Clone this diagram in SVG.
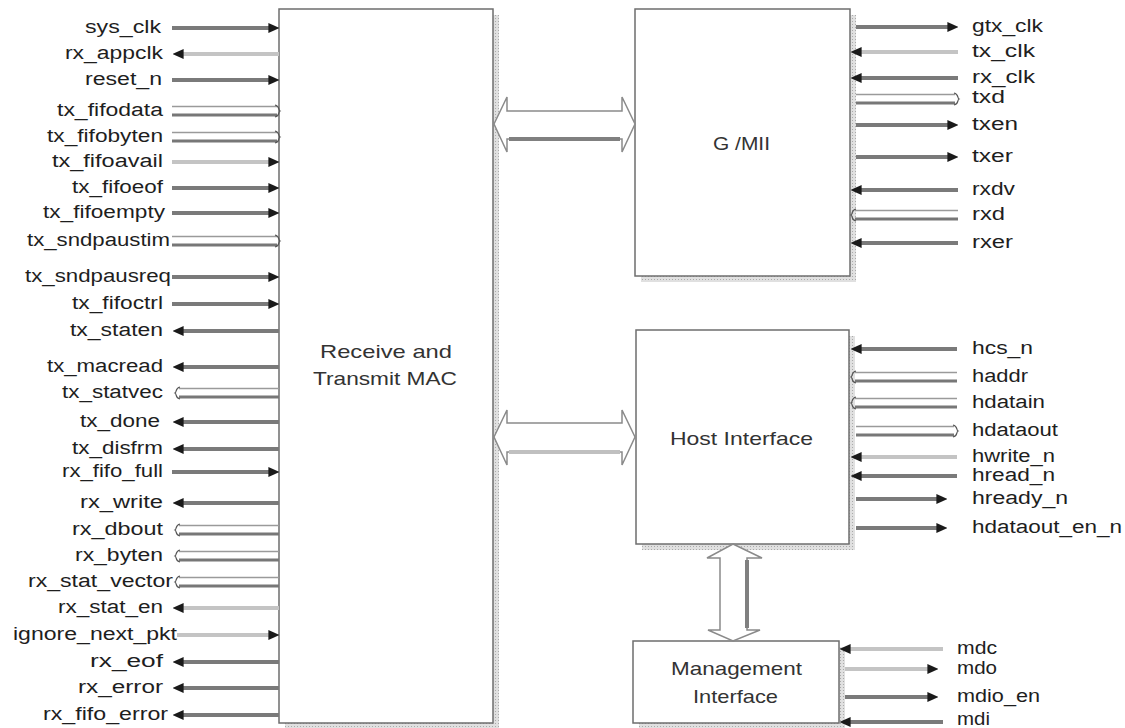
<svg xmlns="http://www.w3.org/2000/svg" width="1125" height="728" viewBox="0 0 1125 728">
<style>
.blk{fill:#fff;stroke:#6e6e6e;stroke-width:1.5}
.shd{fill:url(#dots)}
.dk{stroke:#7a7a7a;stroke-width:4;fill:none}
.lt{stroke:#c4c4c4;stroke-width:4;fill:none}
.in{marker-end:url(#ah)}
.bt{stroke:#9a9a9a;stroke-width:1.3;fill:none}
.bb{stroke:#777;stroke-width:3;fill:none}
.bk{stroke:#555;stroke-width:1.2;fill:none}
.big{fill:#fff;stroke:#8a8a8a;stroke-width:1.5}
.bigd{stroke:#808080;stroke-width:4;fill:none}
.lbl{font-family:"Liberation Sans",Arial,sans-serif;font-size:18px;fill:#1e1e1e}
.ttl{font-family:"Liberation Sans",Arial,sans-serif;font-size:19px;fill:#333}
</style>
<defs>
<pattern id="dots" width="3" height="3" patternUnits="userSpaceOnUse">
<rect width="3" height="3" fill="#e0e0e0"/><rect width="1" height="1" fill="#aaa"/>
</pattern>
<marker id="ah" markerUnits="userSpaceOnUse" markerWidth="11" markerHeight="11" viewBox="0 0 10 10" refX="6" refY="5" orient="auto">
<path d="M0,0.5 L10,5 L0,9.5 Z" fill="#1a1a1a"/>
</marker>
<path id="brR" d="M-3,-6 C2,-5 0,-1 2,0 C0,1 2,5 -3,6"/>
<path id="brL" d="M3,-6 C-2,-5 0,-1 -2,0 C0,1 -2,5 3,6"/>
</defs>
<rect width="1125" height="728" fill="#fff"/>

<g id="mac">
<rect class="shd" x="285" y="15" width="214" height="714"/>
<rect class="blk" x="279" y="9" width="214" height="714"/>
<text class="ttl" x="320" y="358" textLength="132" lengthAdjust="spacingAndGlyphs">Receive and</text>
<text class="ttl" x="313" y="385" textLength="144" lengthAdjust="spacingAndGlyphs">Transmit MAC</text>
</g>
<g id="gmii">
<rect class="shd" x="641" y="15" width="215" height="267"/>
<rect class="blk" x="635" y="9" width="215" height="267"/>
<text class="ttl" x="713" y="150" textLength="57" lengthAdjust="spacingAndGlyphs">G /MII</text>
</g>
<g id="host">
<rect class="shd" x="642" y="336" width="213" height="214"/>
<rect class="blk" x="636" y="330" width="213" height="214"/>
<text class="ttl" x="670" y="445" textLength="143" lengthAdjust="spacingAndGlyphs">Host Interface</text>
</g>
<g id="mgmt">
<rect class="shd" x="639" y="647" width="206" height="82"/>
<rect class="blk" x="633" y="641" width="206" height="82"/>
<text class="ttl" x="671" y="675" textLength="131" lengthAdjust="spacingAndGlyphs">Management</text>
<text class="ttl" x="693" y="703" textLength="85" lengthAdjust="spacingAndGlyphs">Interface</text>
</g>

<g id="connectors">
<path class="big" d="M494,124 L507,97 L507,111 L622,111 L622,97 L635,124 L622,152 L622,139 L507,139 L507,152 Z"/>
<path class="bigd" d="M509,139 H620"/>
<path class="big" d="M494,437 L507,410 L507,423 L622,423 L622,410 L635,437 L622,465 L622,452 L507,452 L507,465 Z"/>
<path class="bigd" d="M509,452 H620" style="stroke:#c0c0c0"/>
<path class="big" d="M733,544 L762,558 L747,558 L747,630 L760,630 L733,641 L708,630 L720,630 L720,558 L707,558 Z"/>
<path class="bigd" d="M747,560 V628"/>

<path class="dk in" d="M172,28 H275"/>
<path class="lt in" d="M279,54 H177"/>
<path class="dk in" d="M172,80 H275"/>
<path class="bt" d="M172,106.5 H277"/><path class="bb" d="M172,115 H277"/><use href="#brR" class="bk" x="278" y="111"/>
<path class="bt" d="M172,132.5 H277"/><path class="bb" d="M172,141 H277"/><use href="#brR" class="bk" x="278" y="137"/>
<path class="lt in" d="M172,162 H275"/>
<path class="dk in" d="M172,188 H275"/>
<path class="dk in" d="M172,213 H275"/>
<path class="bt" d="M172,236.5 H277"/><path class="bb" d="M172,245 H277"/><use href="#brR" class="bk" x="278" y="241"/>
<path class="dk in" d="M172,277 H275"/>
<path class="dk in" d="M172,304 H275"/>
<path class="dk in" d="M279,331 H177"/>
<path class="dk in" d="M279,367 H177"/>
<path class="bt" d="M179,388.5 H279"/><path class="bb" d="M179,397 H279"/><use href="#brL" class="bk" x="177" y="393"/>
<path class="dk in" d="M279,422 H177"/>
<path class="dk in" d="M279,449 H177"/>
<path class="dk in" d="M172,472 H275"/>
<path class="dk in" d="M279,503 H177"/>
<path class="bt" d="M179,525.5 H279"/><path class="bb" d="M179,534 H279"/><use href="#brL" class="bk" x="177" y="530"/>
<path class="bt" d="M179,551.5 H279"/><path class="bb" d="M179,560 H279"/><use href="#brL" class="bk" x="177" y="556"/>
<path class="bt" d="M179,577.5 H279"/><path class="bb" d="M179,586 H279"/><use href="#brL" class="bk" x="177" y="582"/>
<path class="lt in" d="M279,608 H177"/>
<path class="lt in" d="M177,635 H275"/>
<path class="dk in" d="M279,662 H177"/>
<path class="dk in" d="M279,688 H177"/>
<path class="dk in" d="M279,715 H177"/>

<path class="dk in" d="M856,27 H954"/>
<path class="lt in" d="M958,52 H855"/>
<path class="dk in" d="M958,78 H855"/>
<path class="bt" d="M856,94.5 H955"/><path class="bb" d="M856,103 H955"/><use href="#brR" class="bk" x="957" y="99"/>
<path class="dk in" d="M856,125 H954"/>
<path class="dk in" d="M856,157 H954"/>
<path class="dk in" d="M958,190 H855"/>
<path class="bt" d="M855,210.5 H958"/><path class="bb" d="M855,219 H958"/><use href="#brL" class="bk" x="853" y="215"/>
<path class="dk in" d="M958,243 H855"/>

<path class="dk in" d="M957,349 H855"/>
<path class="bt" d="M855,372.5 H957"/><path class="bb" d="M855,381 H957"/><use href="#brL" class="bk" x="853" y="377"/>
<path class="bt" d="M855,398.5 H957"/><path class="bb" d="M855,407 H957"/><use href="#brL" class="bk" x="853" y="403"/>
<path class="bt" d="M856,426.5 H954"/><path class="bb" d="M856,435 H954"/><use href="#brR" class="bk" x="956" y="431"/>
<path class="lt in" d="M957,457 H855"/>
<path class="dk in" d="M957,476 H855"/>
<path class="dk in" d="M856,499 H943"/>
<path class="dk in" d="M856,528 H943"/>

<path class="lt in" d="M943,649 H844"/>
<path class="lt in" d="M845,669 H934"/>
<path class="dk in" d="M845,697 H934"/>
<path class="dk in" d="M943,722 H844"/>
</g>

<g id="labels" class="lbl">
<text x="85" y="33" textLength="76" lengthAdjust="spacingAndGlyphs">sys_clk</text>
<text x="65" y="59" textLength="98" lengthAdjust="spacingAndGlyphs">rx_appclk</text>
<text x="85" y="85" textLength="77" lengthAdjust="spacingAndGlyphs">reset_n</text>
<text x="57" y="116" textLength="106" lengthAdjust="spacingAndGlyphs">tx_fifodata</text>
<text x="47" y="142" textLength="116" lengthAdjust="spacingAndGlyphs">tx_fifobyten</text>
<text x="52" y="167" textLength="111" lengthAdjust="spacingAndGlyphs">tx_fifoavail</text>
<text x="72" y="193" textLength="91" lengthAdjust="spacingAndGlyphs">tx_fifoeof</text>
<text x="43" y="218" textLength="122" lengthAdjust="spacingAndGlyphs">tx_fifoempty</text>
<text x="27" y="246" textLength="143" lengthAdjust="spacingAndGlyphs">tx_sndpaustim</text>
<text x="25" y="282" textLength="146" lengthAdjust="spacingAndGlyphs">tx_sndpausreq</text>
<text x="72" y="309" textLength="91" lengthAdjust="spacingAndGlyphs">tx_fifoctrl</text>
<text x="70" y="336" textLength="93" lengthAdjust="spacingAndGlyphs">tx_staten</text>
<text x="47" y="372" textLength="116" lengthAdjust="spacingAndGlyphs">tx_macread</text>
<text x="62" y="398" textLength="101" lengthAdjust="spacingAndGlyphs">tx_statvec</text>
<text x="80" y="427" textLength="80" lengthAdjust="spacingAndGlyphs">tx_done</text>
<text x="72" y="454" textLength="91" lengthAdjust="spacingAndGlyphs">tx_disfrm</text>
<text x="62" y="477" textLength="101" lengthAdjust="spacingAndGlyphs">rx_fifo_full</text>
<text x="80" y="508" textLength="83" lengthAdjust="spacingAndGlyphs">rx_write</text>
<text x="72" y="535" textLength="91" lengthAdjust="spacingAndGlyphs">rx_dbout</text>
<text x="75" y="561" textLength="88" lengthAdjust="spacingAndGlyphs">rx_byten</text>
<text x="28" y="587" textLength="145" lengthAdjust="spacingAndGlyphs">rx_stat_vector</text>
<text x="58" y="613" textLength="105" lengthAdjust="spacingAndGlyphs">rx_stat_en</text>
<text x="13" y="640" textLength="164" lengthAdjust="spacingAndGlyphs">ignore_next_pkt</text>
<text x="90" y="667" textLength="73" lengthAdjust="spacingAndGlyphs">rx_eof</text>
<text x="78" y="693" textLength="85" lengthAdjust="spacingAndGlyphs">rx_error</text>
<text x="43" y="720" textLength="125" lengthAdjust="spacingAndGlyphs">rx_fifo_error</text>

<text x="972" y="32" textLength="71" lengthAdjust="spacingAndGlyphs">gtx_clk</text>
<text x="972" y="57" textLength="63" lengthAdjust="spacingAndGlyphs">tx_clk</text>
<text x="972" y="83" textLength="63" lengthAdjust="spacingAndGlyphs">rx_clk</text>
<text x="972" y="103" textLength="33" lengthAdjust="spacingAndGlyphs">txd</text>
<text x="972" y="130" textLength="46" lengthAdjust="spacingAndGlyphs">txen</text>
<text x="972" y="162" textLength="41" lengthAdjust="spacingAndGlyphs">txer</text>
<text x="972" y="195" textLength="43" lengthAdjust="spacingAndGlyphs">rxdv</text>
<text x="972" y="220" textLength="33" lengthAdjust="spacingAndGlyphs">rxd</text>
<text x="972" y="248" textLength="41" lengthAdjust="spacingAndGlyphs">rxer</text>

<text x="972" y="354" textLength="61" lengthAdjust="spacingAndGlyphs">hcs_n</text>
<text x="972" y="382" textLength="56" lengthAdjust="spacingAndGlyphs">haddr</text>
<text x="972" y="408" textLength="73" lengthAdjust="spacingAndGlyphs">hdatain</text>
<text x="972" y="436" textLength="86" lengthAdjust="spacingAndGlyphs">hdataout</text>
<text x="972" y="462" textLength="83" lengthAdjust="spacingAndGlyphs">hwrite_n</text>
<text x="972" y="481" textLength="83" lengthAdjust="spacingAndGlyphs">hread_n</text>
<text x="972" y="504" textLength="96" lengthAdjust="spacingAndGlyphs">hready_n</text>
<text x="972" y="533" textLength="150" lengthAdjust="spacingAndGlyphs">hdataout_en_n</text>

<text x="957" y="654" textLength="40" lengthAdjust="spacingAndGlyphs">mdc</text>
<text x="957" y="674" textLength="40" lengthAdjust="spacingAndGlyphs">mdo</text>
<text x="957" y="702" textLength="83" lengthAdjust="spacingAndGlyphs">mdio_en</text>
<text x="957" y="725" textLength="33" lengthAdjust="spacingAndGlyphs">mdi</text>
</g>
</svg>
